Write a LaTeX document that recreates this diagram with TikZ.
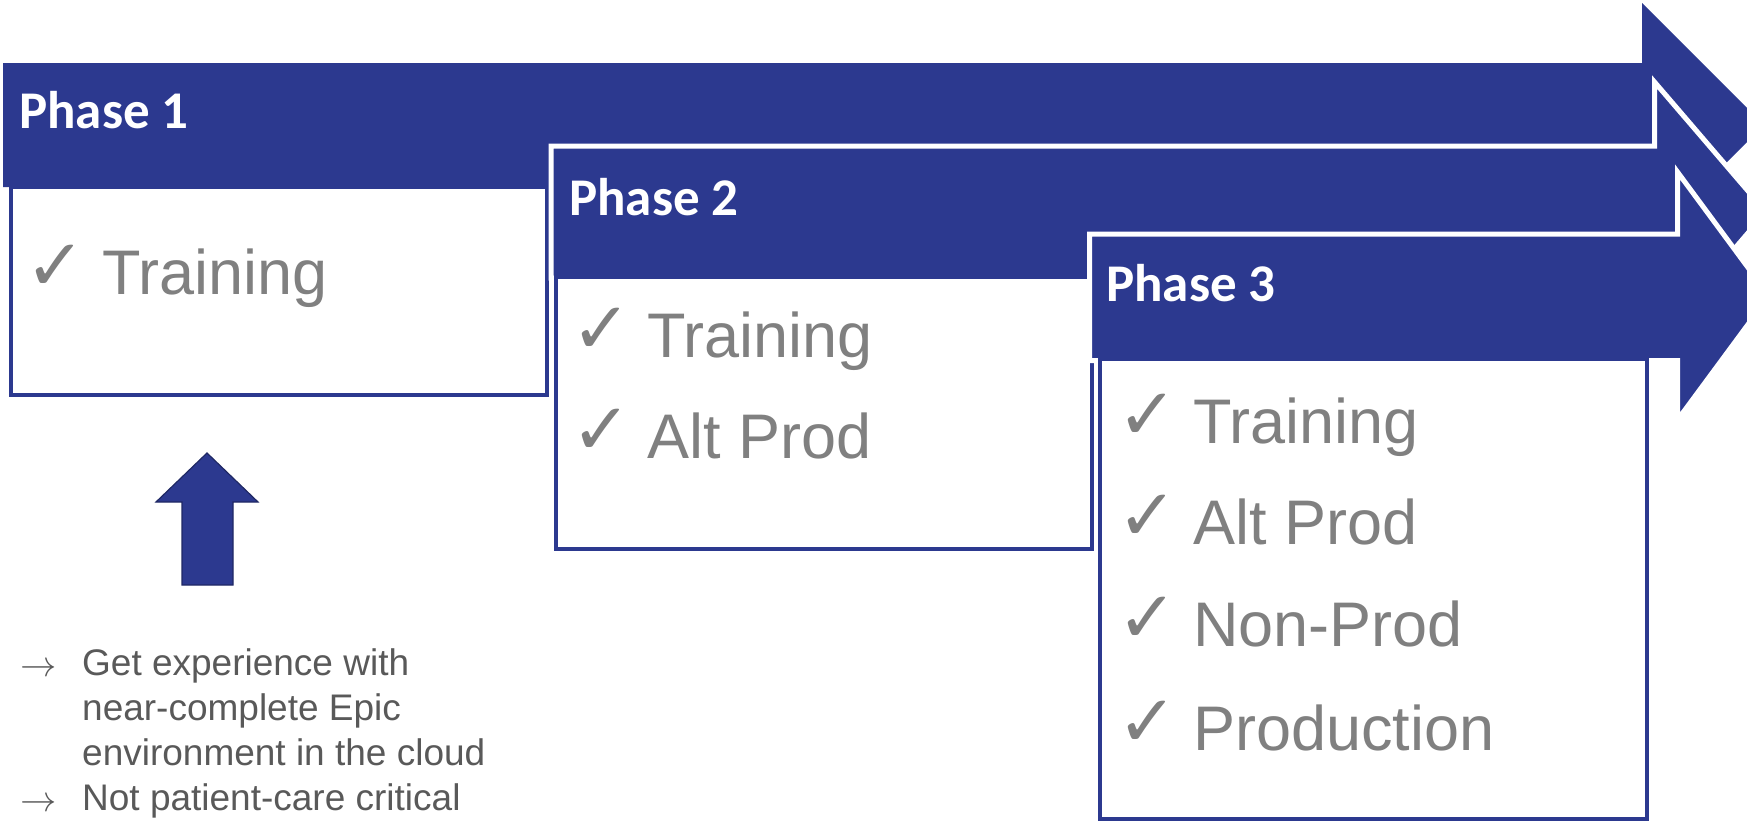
\documentclass[tikz,border=0pt]{standalone}
\usepackage{graphicx}
\usepackage{fontspec}
\setmainfont{Liberation Sans}
\newfontfamily\calib{Carlito}
\newfontfamily\symb{DejaVu Sans}
\definecolor{pblue}{RGB}{44,57,143}
\definecolor{itemgray}{RGB}{128,128,128}
\definecolor{notegray}{RGB}{89,89,89}
\newcommand{\notearr}{\scalebox{1.75}{\fontsize{20}{24}\selectfont$\rightarrow$}}
\begin{document}
\begin{tikzpicture}[x=1pt,y=-1pt,
  phase/.style={anchor=base west, text=white, font=\calib\bfseries\fontsize{53}{60}\selectfont, inner sep=0pt},
  item/.style={anchor=base west, text=itemgray, font=\fontsize{63}{75}\selectfont, inner sep=0pt},
  tick/.style={anchor=base west, text=itemgray, font=\symb\bfseries\fontsize{72}{80}\selectfont, inner sep=0pt},
  note/.style={anchor=base west, text=notegray, font=\fontsize{37}{45}\selectfont, inner sep=0pt},
  notearrow/.style={anchor=base west, text=notegray, inner sep=0pt},
  boxline/.style={draw=pblue, line width=4pt, fill=white},
  arrowbody/.style={fill=pblue, draw=white, line width=5pt, line join=miter}
]
\useasboundingbox (0,0) rectangle (1747,822);
\clip (0,0) rectangle (1747,822);

% Phase 1 arrow and box
\fill[pblue] (3,63) -- (1642,63) -- (1642,3) -- (1764,125) -- (1642,247) -- (1642,187) -- (3,187) -- cycle;
\draw[boxline] (11,187) rectangle (547,395);

% Phase 2 arrow and box
\filldraw[arrowbody] (551,146) -- (1654.5,146) -- (1654.5,82) -- (1766,212) -- (1654.5,342) -- (1654.5,278) -- (551,278) -- cycle;
\draw[boxline] (556,276.5) rectangle (1092,548.5);

% Phase 3 arrow and box
\filldraw[arrowbody] (1089.5,234) -- (1677.5,234) -- (1677.5,172) -- (1769,296) -- (1677.5,420) -- (1677.5,360.5) -- (1089.5,360.5) -- cycle;
\draw[boxline] (1099.5,358.5) rectangle (1646.5,818.5);

% up arrow
\filldraw[fill=pblue, draw=pblue!70!black, line width=1.2pt] (207,453) -- (258,502) -- (233,502) -- (233,585) -- (182,585) -- (182,502) -- (156,502) -- cycle;

% phase labels
\node[phase] (p1) at (19,128) {Phase 1};
\node[phase] (p2) at (569,215) {Phase 2};
\node[phase] (p3) at (1106,301) {Phase 3};

% box 1
\node[tick] (c1a) at (25,290) {✓};
\node[item] (t1a) at (102,294) {Training};
% box 2
\node[tick] (c2a) at (571,353) {✓};
\node[item] (t2a) at (647,357) {Training};
\node[tick] (c2b) at (571,454) {✓};
\node[item] (t2b) at (647,458) {Alt Prod};
% box 3
\node[tick] (c3a) at (1117,439) {✓};
\node[item] (t3a) at (1193,443) {Training};
\node[tick] (c3b) at (1117,540) {✓};
\node[item] (t3b) at (1193,544) {Alt Prod};
\node[tick] (c3c) at (1117,642) {✓};
\node[item] (t3c) at (1193,646) {Non-Prod};
\node[tick] (c3d) at (1117,746) {✓};
\node[item] (t3d) at (1193,750) {Production};

% notes
\node[notearrow] (a1) at (20,676) {\notearr};
\node[note] (n1) at (82,675) {Get experience with};
\node[note] (n2) at (82,720) {near-complete Epic};
\node[note] (n3) at (82,765) {environment in the cloud};
\node[notearrow] (a2) at (20,811) {\notearr};
\node[note] (n4) at (82,810) {Not patient-care critical};
\end{tikzpicture}
\end{document}
